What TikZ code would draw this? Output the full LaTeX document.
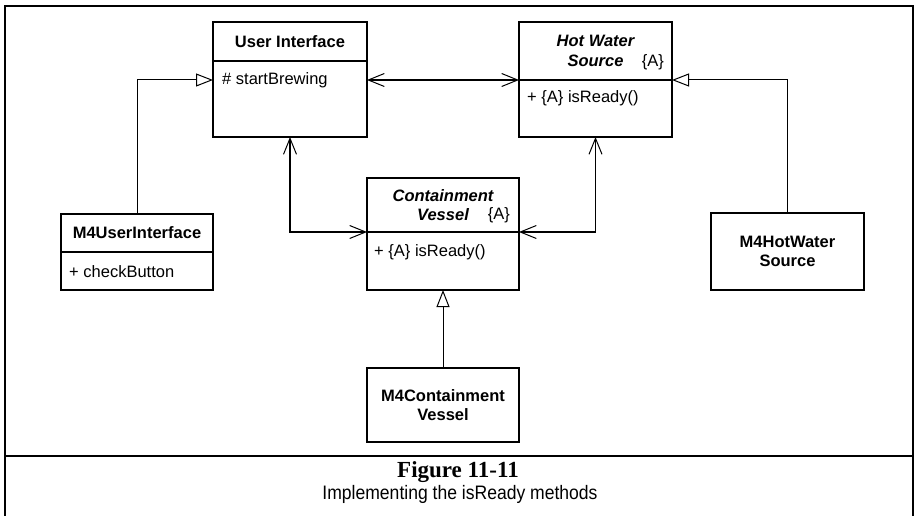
\documentclass[tikz,border=0pt]{standalone}
\usepackage{xcolor}
\usepackage{fontspec}
\setmainfont{Liberation Serif}
\setsansfont{Liberation Sans}
\usepackage{tikz}
\usetikzlibrary{positioning,arrows.meta}
\definecolor{ink}{HTML}{000000}

\tikzset{
  namebox/.style={draw=ink, line width=1.6pt, rectangle, inner sep=0pt, outer sep=0pt,
    align=center, font=\sffamily\bfseries\fontsize{16.5}{19.5}\selectfont},
  opsbox/.style={draw=ink, line width=1.6pt, rectangle, inner sep=0pt, outer sep=0pt},
  member/.style={anchor=west, inner sep=0pt, font=\sffamily\fontsize{16.5}{19.5}\selectfont},
  abstag/.style={anchor=base east, inner sep=0pt, font=\sffamily\fontsize{16.5}{19.5}\selectfont},
  assoc/.style={draw=ink, line width=1.6pt,
    {Straight Barb[length=16pt,width=13pt,line width=1pt]}-{Straight Barb[length=16pt,width=13pt,line width=1pt]}},
  realize/.style={draw=ink, line width=1pt,
    -{Triangle[open,length=17pt,width=13pt,line width=1pt]}},
}

\begin{document}
\begin{tikzpicture}[x=1pt,y=-1pt]
\useasboundingbox (0,0) rectangle (915,516);

% frame and caption
\draw[ink, line width=2.6pt] (5,516) -- (5,6) -- (913,6) -- (913,516);
\draw[ink, line width=2.6pt] (5,456) -- (913,456);
\node[font=\rmfamily\bfseries\fontsize{23}{26}\selectfont, inner sep=0pt] (figno) at (458,472) {Figure 11-11};
\node[font=\sffamily\fontsize{19.5}{22}\selectfont, inner sep=0pt] (figtitle) at (460,494)
  {\scalebox{0.9}[1]{Implementing the isReady methods}};

% classes
\node[namebox, minimum width=154, minimum height=39] (ui) at (290,41.5) {User Interface};
\node[opsbox, minimum width=154, minimum height=76, below=0pt of ui] (ui-ops) {};
\node[member] (ui-attr) at ([shift={(9,19)}]ui-ops.north west) {\# startBrewing};

\node[namebox, minimum width=153, minimum height=58] (hws) at (595.5,51) {\itshape Hot Water\\\itshape Source};
\node[opsbox, minimum width=153, minimum height=57, below=0pt of hws] (hws-ops) {};
\node[abstag] (hws-tag) at ([shift={(-8,-13)}]hws.south east) {\{A\}};
\node[member] (hws-op) at ([shift={(8,18)}]hws-ops.north west) {+ \{A\} isReady()};

\node[namebox, minimum width=152, minimum height=54] (cv) at (443,205) {\itshape Containment\\\itshape Vessel};
\node[opsbox, minimum width=152, minimum height=58, below=0pt of cv] (cv-ops) {};
\node[abstag] (cv-tag) at ([shift={(-9,-13)}]cv.south east) {\{A\}};
\node[member] (cv-op) at ([shift={(7,20)}]cv-ops.north west) {+ \{A\} isReady()};

\node[namebox, minimum width=152, minimum height=38] (m4ui) at (137,233) {M4UserInterface};
\node[opsbox, minimum width=152, minimum height=38, below=0pt of m4ui] (m4ui-ops) {};
\node[member] (m4ui-op) at ([shift={(8,20)}]m4ui-ops.north west) {+ checkButton};

\node[namebox, minimum width=153, minimum height=77] (m4hws) at (787.5,251.5) {M4HotWater\\Source};
\node[namebox, minimum width=152, minimum height=74] (m4cv) at (443,405) {M4Containment\\Vessel};

% associations
\draw[assoc] (ui-ops.east |- hws-ops.north) -- (hws-ops.north west);
\draw[assoc] (ui-ops.south) |- (cv-ops.north west);
\draw[assoc] (hws-ops.south) |- (cv-ops.north east);

% generalizations
\draw[realize] (m4ui.north) |- (ui-ops.west |- hws-ops.north);
\draw[realize] (m4hws.north) |- (hws-ops.north east);
\draw[realize] (m4cv.north) -- (cv-ops.south);
\end{tikzpicture}
\end{document}
